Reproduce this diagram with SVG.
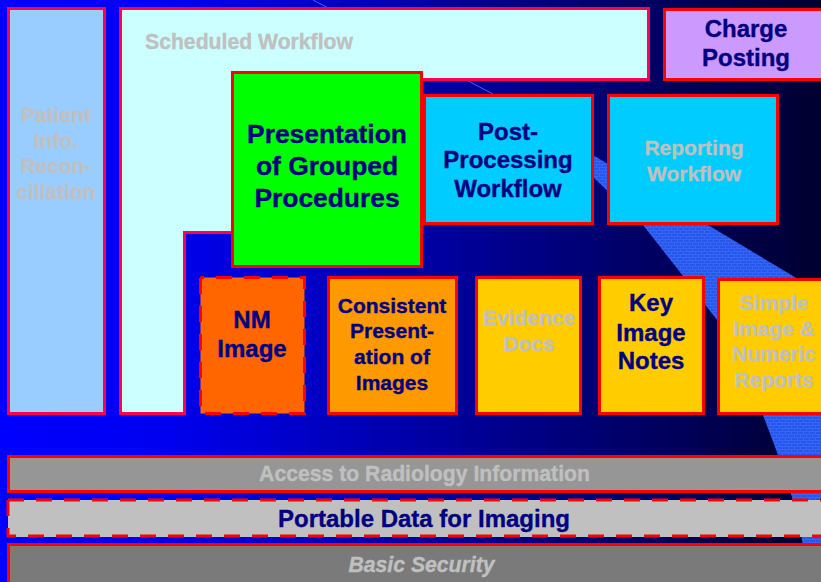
<svg xmlns="http://www.w3.org/2000/svg" width="821" height="582" viewBox="0 0 821 582">
<style>
text{font-family:"Liberation Sans",Arial,sans-serif;font-weight:bold;text-anchor:middle;stroke-width:.35}
.d{fill:#000080;stroke:#000080}.g{fill:#c0c0c0;stroke:#c0c0c0}
.b{stroke:#ff0000;stroke-width:3}
.p{stroke:#ff0050;stroke-width:3}
.dash{stroke-dasharray:16 12}
</style>
<defs>
<linearGradient id="bg" x1="0" y1="0" x2="1" y2="0"><stop offset="0" stop-color="#0000ff"/><stop offset="0.2" stop-color="#0000f0"/><stop offset="1" stop-color="#000030"/></linearGradient>
<pattern id="tex" width="6" height="6" patternUnits="userSpaceOnUse"><rect width="6" height="6" fill="#3366ff"/><path d="M0 1H3M3 4H6M1 3V5M4 0V2" stroke="#1f48c8" stroke-width="1"/></pattern>
</defs>
<rect width="821" height="582" fill="url(#bg)"/>
<g id="swoosh">
<path d="M493 94L708 225L793 276L821 293V582H810L802 540L792 497L778 455L763 415L717 320L683 276L643 225L594 178Z" fill="url(#tex)"/>
<path d="M313 0L493 94" stroke="#3366ff" stroke-width="1" fill="none"/>
</g>
<g id="patient"><rect class="p" x="8.5" y="8.5" width="96" height="405" fill="#99ccff"/>
<text class="g" font-size="21" x="56" y="122">Patient</text><text class="g" font-size="21" x="56" y="148">Info.</text><text class="g" font-size="21" x="56" y="173">Recon-</text><text class="g" font-size="21" x="56" y="199">ciliation</text></g>
<g id="scheduled"><path class="p" d="M120.5 8.5H648.5V79.5H422V232.5H184.5V413.5H120.5Z" fill="#ccffff"/>
<text class="g" font-size="21.2" x="249" y="49">Scheduled Workflow</text></g>
<g id="charge"><rect class="b" x="664.5" y="9.5" width="170" height="70" fill="#cc99ff"/>
<text class="d" font-size="24" x="746" y="37">Charge</text><text class="d" font-size="24" x="746" y="66">Posting</text></g>
<g id="presentation"><rect class="b" x="232.5" y="72.5" width="189" height="194" fill="#00ff00"/>
<text class="d" font-size="26.4" x="327" y="143">Presentation</text><text class="d" font-size="26.4" x="327" y="175">of Grouped</text><text class="d" font-size="26.4" x="327" y="207">Procedures</text></g>
<g id="post"><rect class="b" x="424.5" y="95.5" width="168" height="128" fill="#00ccff"/>
<text class="d" font-size="24" x="508" y="140">Post-</text><text class="d" font-size="24" x="508" y="168">Processing</text><text class="d" font-size="24" x="508" y="197">Workflow</text></g>
<g id="reporting"><rect class="b" x="608.5" y="95.5" width="169" height="128" fill="#00ccff"/>
<text class="g" font-size="21" x="694" y="155">Reporting</text><text class="g" font-size="21" x="694" y="181">Workflow</text></g>
<g id="nm"><rect class="b dash" stroke-dashoffset="12.5" x="200.5" y="277.5" width="104" height="136" fill="#ff6600"/>
<text class="d" font-size="24" x="252" y="328">NM</text><text class="d" font-size="24" x="252" y="357">Image</text></g>
<g id="consistent"><rect class="b" x="328.5" y="277.5" width="128" height="136" fill="#ff9900"/>
<text class="d" font-size="21" x="392" y="313">Consistent</text><text class="d" font-size="21" x="392" y="338">Present-</text><text class="d" font-size="21" x="392" y="364">ation of</text><text class="d" font-size="21" x="392" y="390">Images</text></g>
<g id="evidence"><rect class="b" x="476.5" y="277.5" width="104" height="136" fill="#ffcc00"/>
<text class="g" font-size="21" x="529" y="325">Evidence</text><text class="g" font-size="21" x="529" y="351">Docs</text></g>
<g id="key"><rect class="b" x="599.5" y="277.5" width="104" height="136" fill="#ffcc00"/>
<text class="d" font-size="24" x="651" y="311">Key</text><text class="d" font-size="24" x="651" y="341">Image</text><text class="d" font-size="24" x="651" y="369">Notes</text></g>
<g id="simple"><rect class="b" x="718.5" y="279.5" width="120" height="134" fill="#ffcc00"/>
<text class="g" font-size="21" x="774" y="310">Simple</text><text class="g" font-size="21" x="774" y="336">Image &amp;</text><text class="g" font-size="21" x="774" y="361">Numeric</text><text class="g" font-size="21" x="774" y="387">Reports</text></g>
<g id="access"><rect class="b" x="8.5" y="456.5" width="830" height="35" fill="#969696"/>
<text class="g" font-size="21.2" x="424.5" y="481">Access to Radiology Information</text></g>
<g id="portable"><rect x="8" y="500" width="826" height="37" fill="#c0c0c0"/><path class="b dash" d="M8 500H834V536H8V500" fill="none"/>
<text class="d" font-size="24" x="424" y="527">Portable Data for Imaging</text></g>
<g id="basic"><rect class="b" x="8.5" y="544.5" width="830" height="50" fill="#7a7a7a"/>
<text class="g" font-size="21.2" font-style="italic" x="421.5" y="572">Basic Security</text></g>
<g id="connectors"/>
</svg>
